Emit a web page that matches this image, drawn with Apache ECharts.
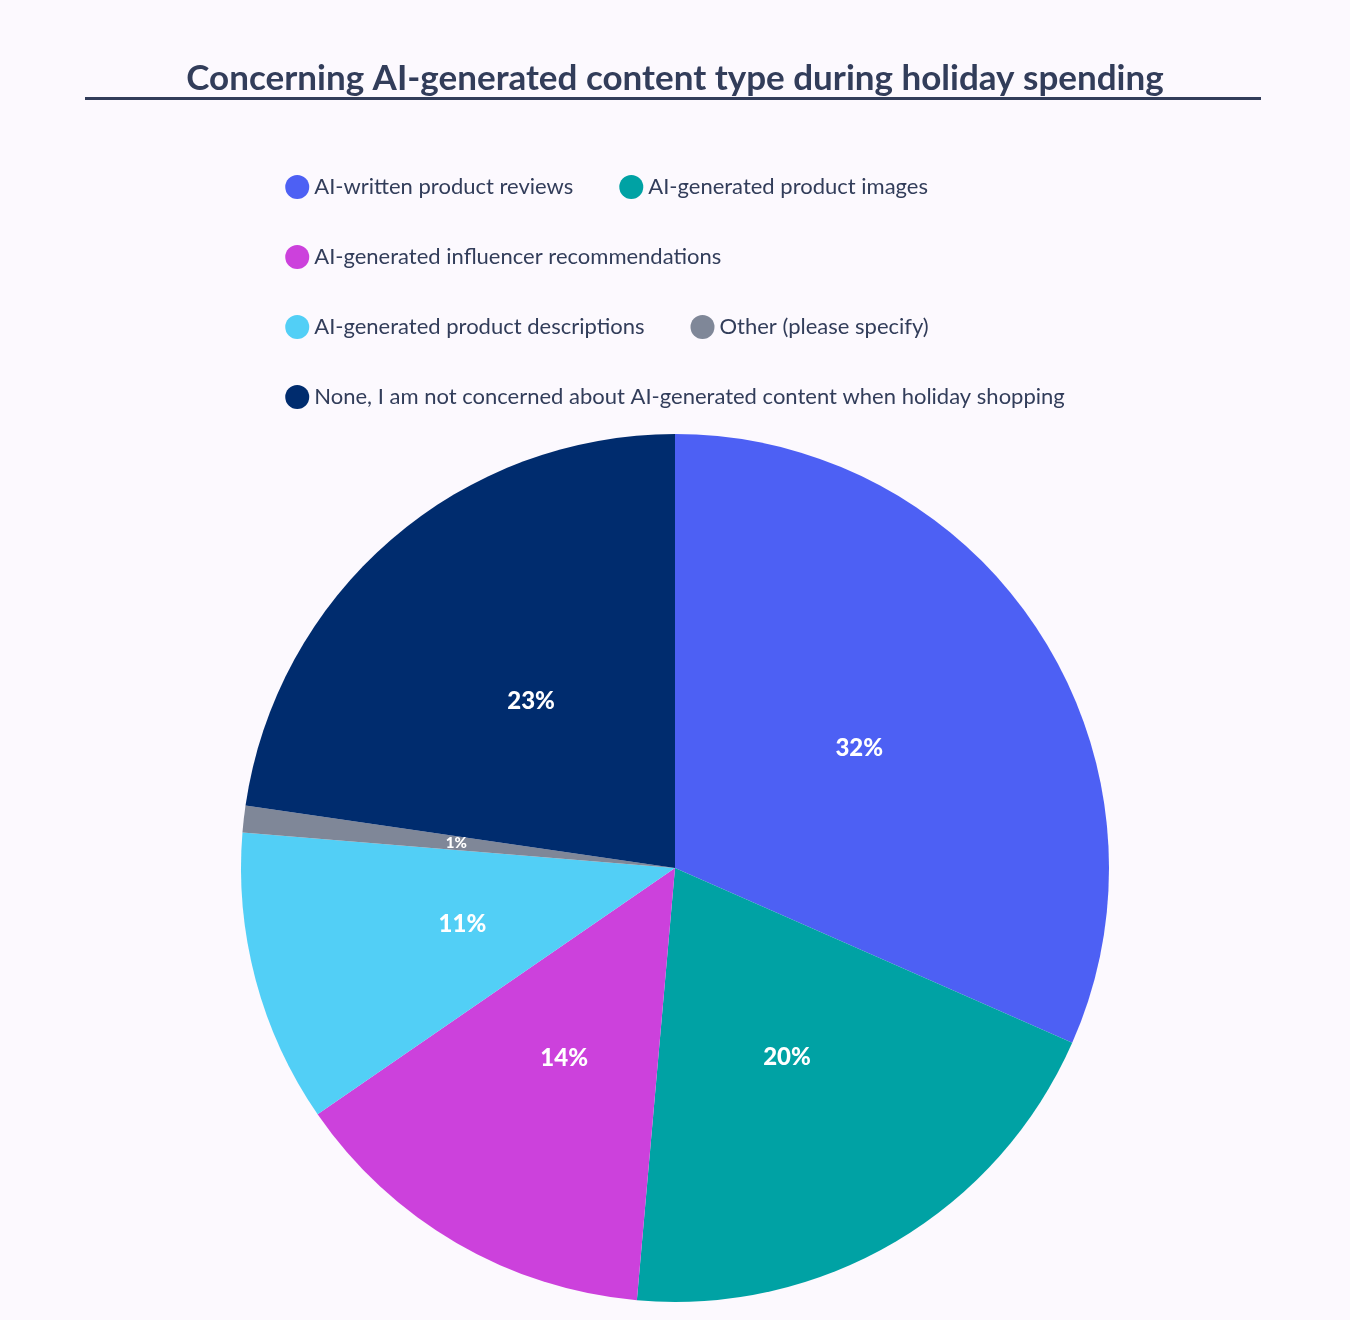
<!DOCTYPE html>
<html>
<head>
<meta charset="utf-8">
<script src="https://cdn.jsdelivr.net/npm/echarts@6/dist/echarts.min.js"></script>
<style>html,body{margin:0;padding:0;background:#fcf9fe;}#chart{width:1350px;height:1320px;}</style>
</head>
<body>
<div id="chart"></div>
<script>
// content types and their shares
var categories = [
  'AI-written product reviews',
  'AI-generated product images',
  'AI-generated influencer recommendations',
  'AI-generated product descriptions',
  'Other (please specify)',
  'None, I am not concerned about AI-generated content when holiday shopping'
];
var shares = [31.6, 19.8, 14.0, 10.9, 1.0, 22.7];
var colors = ['#4d60f4', '#00a2a4', '#cc41dc', '#52cff6', '#7f8798', '#002c6e'];

var chart = echarts.init(document.getElementById('chart'));
chart.setOption({
  backgroundColor: '#fcf9fe',
  color: colors,
  title: {
    text: 'Concerning AI-generated content type during holiday spending',
    left: 'center',
    top: 56,
    textStyle: { fontFamily: 'Lato', fontWeight: 'bold', fontSize: 35, color: '#323d5a' }
  },
  graphic: [{
    type: 'rect',
    shape: { x: 85, y: 97, width: 1176, height: 3 },
    style: { fill: '#323d5a' }
  }],
  legend: {
    top: 170,
    left: 'center',
    width: 820,
    itemGap: 46,
    icon: 'circle',
    itemWidth: 24,
    itemHeight: 24,
    textStyle: { fontFamily: 'Lato', fontSize: 22, color: '#323d5a', width: 790, overflow: 'truncate' }
  },
  series: [{
    type: 'pie',
    center: [675, 868],
    radius: 434,
    startAngle: 90,
    clockwise: true,
    label: {
      position: 'inside',
      color: '#fff',
      fontFamily: 'Lato',
      fontWeight: 900,
      fontSize: 24,
      formatter: function (p) { return Math.round(p.value) + '%'; }
    },
    labelLine: { show: false },
    data: categories.map(function (c, i) {
      var d = { name: c, value: shares[i] };
      if (shares[i] < 2) d.label = { fontSize: 15 };
      return d;
    })
  }]
});
</script>
</body>
</html>
